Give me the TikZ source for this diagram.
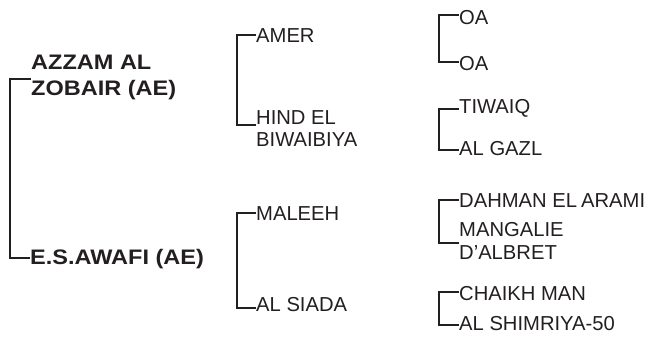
\documentclass[tikz,border=0pt]{standalone}
\usepackage{fontspec}
\setmainfont{Liberation Sans}
\newfontfamily\bfam{Liberation Sans}[FakeStretch=1.12]
\definecolor{ink}{HTML}{231F20}
\begin{document}
\begin{tikzpicture}[x=1pt,y=-1pt,
  lbl/.style={anchor=base west, inner sep=0pt, text=ink, font=\fontsize{20.2}{22}\selectfont},
  blbl/.style={anchor=base west, inner sep=0pt, text=ink, font=\bfam\bfseries\fontsize{21}{26}\selectfont},
  link/.style={draw=ink, line width=2pt}]
\useasboundingbox (0,0) rectangle (649,339);
% generation 1
\node[blbl] (azzam) at (31,70) {AZZAM AL};
\node[blbl] (zobair) at (31,96) {ZOBAIR (AE)};
\node[blbl] (awafi) at (30,265) {E.S.AWAFI (AE)};
% generation 2
\node[lbl] (amer) at (256,43) {AMER};
\node[lbl] (hind) at (256,125) {HIND EL};
\node[lbl] (biwa) at (256,147) {BIWAIBIYA};
\node[lbl] (maleeh) at (256,221) {MALEEH};
\node[lbl] (siada) at (256,312) {AL SIADA};
% generation 3
\node[lbl] (oa1) at (459,25) {OA};
\node[lbl] (oa2) at (459,71) {OA};
\node[lbl] (tiwaiq) at (459,114) {TIWAIQ};
\node[lbl] (gazl) at (459,156) {AL GAZL};
\node[lbl] (dahman) at (459,208) {DAHMAN EL\hspace{-1.5pt} ARAMI};
\node[lbl] (mang) at (459,237) {MANGALIE};
\node[lbl] (albret) at (459,260) {D'ALBRET};
\node[lbl] (chaikh) at (459,301) {CHAIKH MAN};
\node[lbl] (shim) at (459,331) {AL SHIMRIYA-50};
% bracket corners
\coordinate (a1) at (10,79);  \coordinate (a2) at (10,258);
\coordinate (b1) at (237,35); \coordinate (b2) at (237,125);
\coordinate (c1) at (237,213); \coordinate (c2) at (237,308);
\coordinate (d1) at (439,15); \coordinate (d2) at (439,62);
\coordinate (e1) at (439,109); \coordinate (e2) at (439,150);
\coordinate (f1) at (439,200); \coordinate (f2) at (439,243);
\coordinate (g1) at (439,292); \coordinate (g2) at (439,325);
% connectors
\draw[link] (a1 -| zobair.west) -- (a1) -- (a2) -- (a2 -| awafi.west);
\draw[link] (b1 -| amer.west) -- (b1) -- (b2) -- (b2 -| hind.west);
\draw[link] (c1 -| maleeh.west) -- (c1) -- (c2) -- (c2 -| siada.west);
\draw[link] (d1 -| oa1.west) -- (d1) -- (d2) -- (d2 -| oa2.west);
\draw[link] (e1 -| tiwaiq.west) -- (e1) -- (e2) -- (e2 -| gazl.west);
\draw[link] (f1 -| dahman.west) -- (f1) -- (f2) -- (f2 -| albret.west);
\draw[link] (g1 -| chaikh.west) -- (g1) -- (g2) -- (g2 -| shim.west);
\end{tikzpicture}
\end{document}
